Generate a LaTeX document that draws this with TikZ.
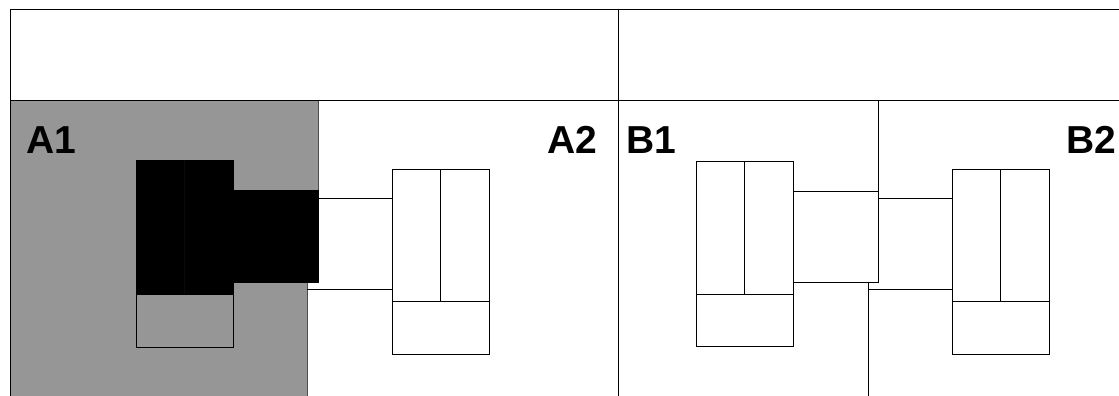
\documentclass[tikz,border=0pt]{standalone}
\usepackage{fontspec}
\setmainfont{Liberation Sans}
\definecolor{regiongray}{RGB}{150,150,150}
\begin{document}
\begin{tikzpicture}[x=1pt,y=-1pt,line width=1pt,
  lbl/.style={font=\fontsize{39}{39}\selectfont\bfseries,inner sep=0pt},
  unitbox/.style={draw=black,rectangle,inner sep=0pt,outer sep=0pt,anchor=north west},
  wire/.style={draw=black,line width=1pt}]
\useasboundingbox (0,0) rectangle (1119,396);
\begin{scope}
\clip (0,0) rectangle (1119,396);
% region A1 (gray)
\coordinate (ra1) at (10,100);
\coordinate (ra2) at (318,100);
\coordinate (ra3) at (318,282);
\coordinate (ra4) at (307,282);
\coordinate (ra5) at (307,400);
\coordinate (ra6) at (10,400);
\fill[regiongray] (ra1) -- (ra2) -- (ra3) -- (ra4) -- (ra5) -- (ra6) -- cycle;
\draw[black!70] (ra2) -- (ra3) (ra4) -- (ra5);
% frame
\coordinate (tl) at (10,10);
\coordinate (tr) at (1125,10);
\coordinate (ml) at (10,100);
\coordinate (mr) at (1125,100);
\coordinate (bl) at (10,400);
\coordinate (dt) at (618,10);
\coordinate (db) at (618,400);
\draw (tl) -- (tr) (ml) -- (mr) (tl) -- (bl) (dt) -- (db);
% region B boundary
\coordinate (rb1) at (878,100);
\coordinate (rb2) at (878,191);
\coordinate (rb3) at (868,282);
\coordinate (rb4) at (868,400);
\draw (rb1) -- (rb2) (rb3) -- (rb4);

% unit A1
\node[unitbox,fill=black,minimum width=97,minimum height=134] (a1top) at (136,160) {};
\node[unitbox,fill=regiongray,minimum width=97,minimum height=53] (a1bot) at (136,294) {};
\node[unitbox,fill=black,minimum width=85,minimum height=92] (a1con) at (233,190) {};
\draw[black!96!white,line width=0.6pt] (a1top.north) -- (a1top.south);
% unit A2
\node[unitbox,minimum width=97,minimum height=132] (a2top) at (392,169) {};
\node[unitbox,minimum width=97,minimum height=53] (a2bot) at (392,301) {};
\draw (a2top.north) -- (a2top.south);
\coordinate (a1w) at (307,289);
\draw[wire] (a1con.east |- 0,198) -- (a2top.west |- 0,198);
\draw[wire] (a1w) -- (a2top.west |- a1w);
% unit B1
\node[unitbox,minimum width=97,minimum height=133] (b1top) at (696,161) {};
\node[unitbox,minimum width=97,minimum height=52] (b1bot) at (696,294) {};
\node[unitbox,minimum width=85,minimum height=91] (b1con) at (793,191) {};
\draw (b1top.north) -- (b1top.south);
% unit B2
\node[unitbox,minimum width=97,minimum height=132] (b2top) at (952,169) {};
\node[unitbox,minimum width=97,minimum height=53] (b2bot) at (952,301) {};
\draw (b2top.north) -- (b2top.south);
\coordinate (b1w) at (868,289);
\draw[wire] (b1con.east |- 0,198) -- (b2top.west |- 0,198);
\draw[wire] (b1w) -- (b2top.west |- b1w);
\end{scope}
% labels
\node[lbl,anchor=base west] (la1) at (26,153) {A1};
\node[lbl,anchor=base east] (la2) at (598,153) {A2};
\node[lbl,anchor=base west] (lb1) at (626,153) {B1};
\node[lbl,anchor=base east] (lb2) at (1117,153) {B2};
\end{tikzpicture}
\end{document}
